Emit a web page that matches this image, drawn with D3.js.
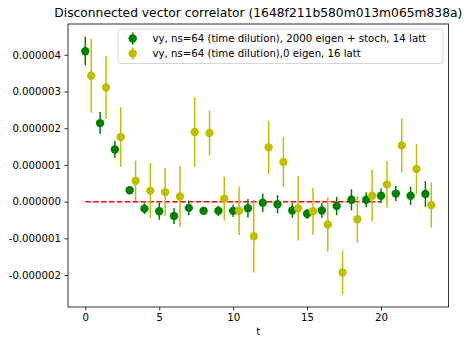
<!DOCTYPE html>
<html>
<head>
<meta charset="utf-8">
<script src="https://cdn.jsdelivr.net/npm/d3@7"></script>
<style>
  body { margin: 0; background: #fff; }
  text { font-family: "DejaVu Sans", sans-serif; fill: #000; }
</style>
</head>
<body>
<svg id="chart" width="472" height="338"></svg>
<script>
var W = 472, H = 338,
    margin = {top: 24, right: 23.4, bottom: 31, left: 68};

// green: 2000 eigen + stoch, 14 latt (t = 0..23)
var tGreen = d3.range(24);
var yGreen = [4.10, 2.14, 1.42, 0.31, -0.19, -0.26, -0.39, -0.17, -0.25, -0.25, -0.25, -0.18,
              -0.03, -0.07, -0.24, -0.33, -0.24, -0.12, 0.05, 0.05, 0.16, 0.22, 0.16, 0.21];
var eGreen = [0.39, 0.30, 0.23, 0.08, 0.15, 0.23, 0.22, 0.20, 0.10, 0.14, 0.17, 0.25,
              0.25, 0.25, 0.20, 0.14, 0.20, 0.25, 0.29, 0.20, 0.20, 0.21, 0.25, 0.35];

// yellow: 0 eigen, 16 latt (shifted by 0.4)
var tYellow = d3.range(24).map(function(d) { return d + 0.4; });
var yYellow = [3.43, 3.11, 1.76, 0.57, 0.30, 0.26, 0.14, 1.90, 1.87, 0.08, -0.25, -0.94,
               1.48, 1.08, -0.18, -0.26, -0.62, -1.93, -0.48, 0.16, 0.47, 1.53, 0.89, -0.09];
var eYellow = [1.00, 0.86, 0.81, 0.55, 0.75, 0.65, 0.83, 0.95, 0.61, 0.60, 0.66, 0.99,
               0.72, 0.68, 0.88, 0.64, 0.74, 0.60, 0.64, 0.70, 0.63, 0.74, 0.68, 0.62];

var yTicks = [-2e-6, -1e-6, 0, 1e-6, 2e-6, 3e-6, 4e-6];
var xTicks = [0, 5, 10, 15, 20];
var zeroLine = [0, 20];

var series = [
  {t: tGreen, y: yGreen, e: eGreen, color: "#008000",
   label: "vy, ns=64 (time dilution), 2000 eigen + stoch, 14 latt"},
  {t: tYellow, y: yYellow, e: eYellow, color: "#bfbf00",
   label: "vy, ns=64 (time dilution),0 eigen, 16 latt"}
];

var svg = d3.select("#chart");

var x = d3.scaleLinear().domain([-1.17, 24.57]).range([margin.left, W - margin.right]);
var y = d3.scaleLinear().domain([-2.87e-6, 4.84e-6]).range([H - margin.bottom, margin.top]);

// zero line
svg.append("line")
   .attr("x1", x(zeroLine[0])).attr("x2", x(zeroLine[1]))
   .attr("y1", y(0)).attr("y2", y(0))
   .attr("stroke", "#ff0000").attr("stroke-width", 1.5)
   .attr("stroke-dasharray", "5.5,2.4");

// error bars + markers
series.forEach(function(s) {
  var g = svg.append("g");
  var pts = s.t.map(function(t, i) { return {t: t, y: s.y[i] * 1e-6, e: s.e[i] * 1e-6}; });
  g.selectAll("line").data(pts).enter().append("line")
   .attr("x1", function(d) { return x(d.t); })
   .attr("x2", function(d) { return x(d.t); })
   .attr("y1", function(d) { return y(d.y - d.e); })
   .attr("y2", function(d) { return y(d.y + d.e); })
   .attr("stroke", s.color).attr("stroke-width", 1.5);
  g.selectAll("circle").data(pts).enter().append("circle")
   .attr("cx", function(d) { return x(d.t); })
   .attr("cy", function(d) { return y(d.y); })
   .attr("r", 4.2)
   .attr("fill", s.color);
});

// axes
var xAxis = svg.append("g")
   .attr("transform", "translate(0," + (H - margin.bottom) + ")")
   .call(d3.axisBottom(x).tickValues(xTicks).tickSize(3.5).tickPadding(3.5));
var yAxis = svg.append("g")
   .attr("transform", "translate(" + margin.left + ",0)")
   .call(d3.axisLeft(y).tickValues(yTicks).tickSize(3.5).tickPadding(3.5)
         .tickFormat(function(d) { return d3.format(".6f")(d).replace("−", "-"); }));
[xAxis, yAxis].forEach(function(a) {
  a.select(".domain").remove();
  a.selectAll("line").attr("stroke", "#000").attr("stroke-width", 0.8);
  a.selectAll("text").attr("font-size", 10.2).attr("font-family", "DejaVu Sans").attr("fill", "#000");
});

// frame
svg.append("rect")
   .attr("x", margin.left).attr("y", margin.top)
   .attr("width", W - margin.right - margin.left)
   .attr("height", H - margin.bottom - margin.top)
   .attr("fill", "none").attr("stroke", "#000").attr("stroke-width", 0.8);

// title and label
svg.append("text")
   .attr("x", (margin.left + W - margin.right) / 2).attr("y", 17)
   .attr("text-anchor", "middle").attr("font-size", 12.3)
   .text("Disconnected vector correlator (1648f211b580m013m065m838a)");
svg.append("text")
   .attr("x", (margin.left + W - margin.right) / 2).attr("y", 335)
   .attr("text-anchor", "middle").attr("font-size", 10.2)
   .text("t");

// legend
var leg = svg.append("g");
leg.append("rect")
   .attr("x", 118).attr("y", 29).attr("width", 325).attr("height", 34.5)
   .attr("rx", 2.5)
   .attr("fill", "#fff").attr("fill-opacity", 0.8)
   .attr("stroke", "#cccccc").attr("stroke-width", 0.8);
series.forEach(function(s, i) {
  var cy = 38.5 + i * 15;
  leg.append("line")
     .attr("x1", 132.7).attr("x2", 132.7)
     .attr("y1", cy - 6).attr("y2", cy + 6)
     .attr("stroke", s.color).attr("stroke-width", 1.5);
  leg.append("circle")
     .attr("cx", 132.7).attr("cy", cy).attr("r", 4.2).attr("fill", s.color);
  leg.append("text")
     .attr("x", 152.5).attr("y", cy + 3.7)
     .attr("font-size", 10.2)
     .text(s.label);
});
</script>
</body>
</html>
